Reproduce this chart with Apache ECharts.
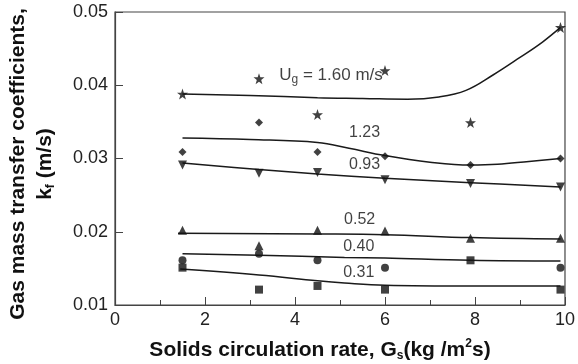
<!DOCTYPE html>
<html>
<head>
<meta charset="utf-8">
<script src="https://cdn.jsdelivr.net/npm/echarts@6/dist/echarts.min.js"></script>
<style>
  html, body { margin: 0; padding: 0; background: #fff; }
  #chart { width: 578px; height: 364px; }
</style>
</head>
<body>
<div id="chart"></div>
<script>
// measured points, Gs (kg/m2s)
var gsPoints = [1.5, 3.2, 4.5, 6.0, 7.9, 9.9];
var kStar = [0.0388, 0.0409, 0.0360, 0.0420, 0.0349, 0.0479];     // Ug = 1.60
var kDiamond = [0.0309, 0.0349, 0.0309, 0.0303, 0.0291, 0.0300];  // 1.23
var kDown = [0.0291, 0.0280, 0.0281, 0.0271, 0.0266, 0.0261];     // 0.93
var kUp = [0.0202, 0.0181, 0.0202, 0.0201, 0.0191, 0.0191];       // 0.52
var kCircle = [0.0161, 0.0170, 0.0161, 0.0151, null, 0.0151];     // 0.40
var kSquare = [0.0151, 0.0121, 0.0126, 0.0121, 0.0161, 0.0121];   // 0.31

// fitted curves
var fit160x = [1.5, 3, 4.5, 5.5, 6.5, 7.2, 7.8, 8.4, 9.0, 9.5, 9.9];
var fit160y = [0.0388, 0.0386, 0.0383, 0.0382, 0.0381, 0.0384, 0.0393, 0.0414, 0.0438, 0.0459, 0.0479];
var fit123x = [1.5, 3, 4.5, 5.2, 6.0, 7.0, 7.9, 8.5, 9.2, 9.9];
var fit123y = [0.0328, 0.0326, 0.0322, 0.0314, 0.0304, 0.0295, 0.0291, 0.0292, 0.0296, 0.0300];
var fit093x = [1.5, 3.2, 4.5, 6.0, 7.9, 9.9];
var fit093y = [0.0294, 0.0285, 0.0279, 0.0273, 0.0267, 0.0261];
var fit052x = [1.4, 4.5, 6.0, 7.9, 9.9];
var fit052y = [0.0198, 0.0197, 0.0196, 0.0192, 0.0190];
var fit040x = [1.5, 3.2, 5.1, 6.0, 7.9, 9.9];
var fit040y = [0.0170, 0.0168, 0.0165, 0.0164, 0.0161, 0.0160];
var fit031x = [1.45, 3.2, 4.5, 5.1, 6.0, 7.9, 9.9];
var fit031y = [0.0149, 0.0141, 0.0133, 0.0130, 0.0127, 0.0126, 0.0126];

// curve labels (left edge of text)
var labelText = ['{n|U}{sub|g}{n| = 1.60 m/s}', '1.23', '0.93', '0.52', '0.40', '0.31'];
var labelX = [3.65, 5.2, 5.2, 5.09, 5.07, 5.07];
var labelY = [0.0413, 0.0335, 0.0291, 0.0216, 0.0180, 0.0144];

var starPath = 'path://M0,-10L2.35,-3.24L9.51,-3.09L3.8,1.24L5.88,8.09L0,4L-5.88,8.09L-3.8,1.24L-9.51,-3.09L-2.35,-3.24Z';
var font = 'Liberation Sans, Arial, sans-serif';

function pairs(xs, ys) {
  return xs.map(function (x, i) { return ys[i] == null ? [x, '-'] : [x, ys[i]]; });
}

function points(ys, symbol, size, rotate) {
  return {
    type: 'scatter',
    data: pairs(gsPoints, ys),
    symbol: symbol,
    symbolSize: size,
    symbolRotate: rotate || 0,
    itemStyle: { color: '#111' },
    z: 3
  };
}

function curve(xs, ys) {
  return {
    type: 'line',
    data: pairs(xs, ys),
    smooth: 0.4,
    showSymbol: false,
    lineStyle: { color: '#1a1a1a', width: 1.5 },
    z: 2
  };
}

var chart = echarts.init(document.getElementById('chart'));

var option = {
  animation: false,
  grid: {
    left: 115, top: 12, right: 5, bottom: 59,
    show: true, borderColor: '#444', borderWidth: 1.2
  },
  xAxis: {
    type: 'value',
    min: 0, max: 10, interval: 2,
    axisLine: { show: true, lineStyle: { color: '#444', width: 1.2 } },
    axisTick: { show: true, inside: true, length: 8, lineStyle: { color: '#444' } },
    minorTick: { show: true, splitNumber: 2, length: 5, lineStyle: { color: '#444' } },
    splitLine: { show: false },
    axisLabel: { color: '#222', fontSize: 18, fontFamily: font, margin: 6 }
  },
  yAxis: {
    type: 'value',
    min: 0.01, max: 0.05, interval: 0.01,
    axisLine: { show: true, lineStyle: { color: '#444', width: 1.2 } },
    axisTick: { show: true, inside: true, length: 8, lineStyle: { color: '#444' } },
    splitLine: { show: false },
    axisLabel: {
      color: '#222', fontSize: 18, fontFamily: font, margin: 7,
      formatter: function (v) { return v.toFixed(2); }
    }
  },
  series: [
    curve(fit160x, fit160y),
    curve(fit123x, fit123y),
    curve(fit093x, fit093y),
    curve(fit052x, fit052y),
    curve(fit040x, fit040y),
    curve(fit031x, fit031y),
    points(kStar, starPath, 11),
    points(kDiamond, 'diamond', 8),
    points(kDown, 'triangle', 9, 180),
    points(kUp, 'triangle', 9),
    points(kCircle, 'circle', 8),
    points(kSquare, 'rect', 8),
    {
      type: 'scatter',
      symbolSize: 0,
      data: labelX.map(function (x, i) { return [x, labelY[i], labelText[i]]; }),
      label: {
        show: true,
        position: [0, 0],
        align: 'left',
        verticalAlign: 'middle',
        color: '#111',
        fontSize: 16,
        fontFamily: font,
        formatter: function (p) { return p.data[2]; },
        rich: {
          n: { fontSize: 17, fontFamily: font, color: '#111', lineHeight: 20 },
          sub: { fontSize: 12, fontFamily: font, color: '#111', lineHeight: 10, verticalAlign: 'bottom' }
        }
      },
      z: 4
    }
  ],
  graphic: [
    {
      type: 'text',
      x: 320, y: 350,
      style: {
        text: '{b|Solids circulation rate, G}{sub|s}{b|(kg /m}{sup|2}{b|s)}',
        align: 'center', verticalAlign: 'middle',
        rich: {
          b: { fontSize: 21, fontWeight: 'bold', fontFamily: font, fill: '#111', lineHeight: 24 },
          sub: { fontSize: 12, fontWeight: 'bold', fontFamily: font, fill: '#111', lineHeight: 10, verticalAlign: 'bottom' },
          sup: { fontSize: 12, fontWeight: 'bold', fontFamily: font, fill: '#111', lineHeight: 10, verticalAlign: 'top' }
        }
      }
    },
    {
      type: 'text',
      x: 18, y: 164,
      rotation: Math.PI / 2,
      style: {
        text: 'Gas mass transfer coefficients,',
        align: 'center', verticalAlign: 'middle',
        font: 'bold 21px ' + font, fill: '#111'
      }
    },
    {
      type: 'text',
      x: 45, y: 164,
      rotation: Math.PI / 2,
      style: {
        text: '{b|k}{sub|f}{b| (m/s)}',
        align: 'center', verticalAlign: 'middle',
        rich: {
          b: { fontSize: 21, fontWeight: 'bold', fontFamily: font, fill: '#111', lineHeight: 24 },
          sub: { fontSize: 12, fontWeight: 'bold', fontFamily: font, fill: '#111', lineHeight: 10, verticalAlign: 'bottom' }
        }
      }
    }
  ]
};

chart.setOption(option);
</script>
</body>
</html>
